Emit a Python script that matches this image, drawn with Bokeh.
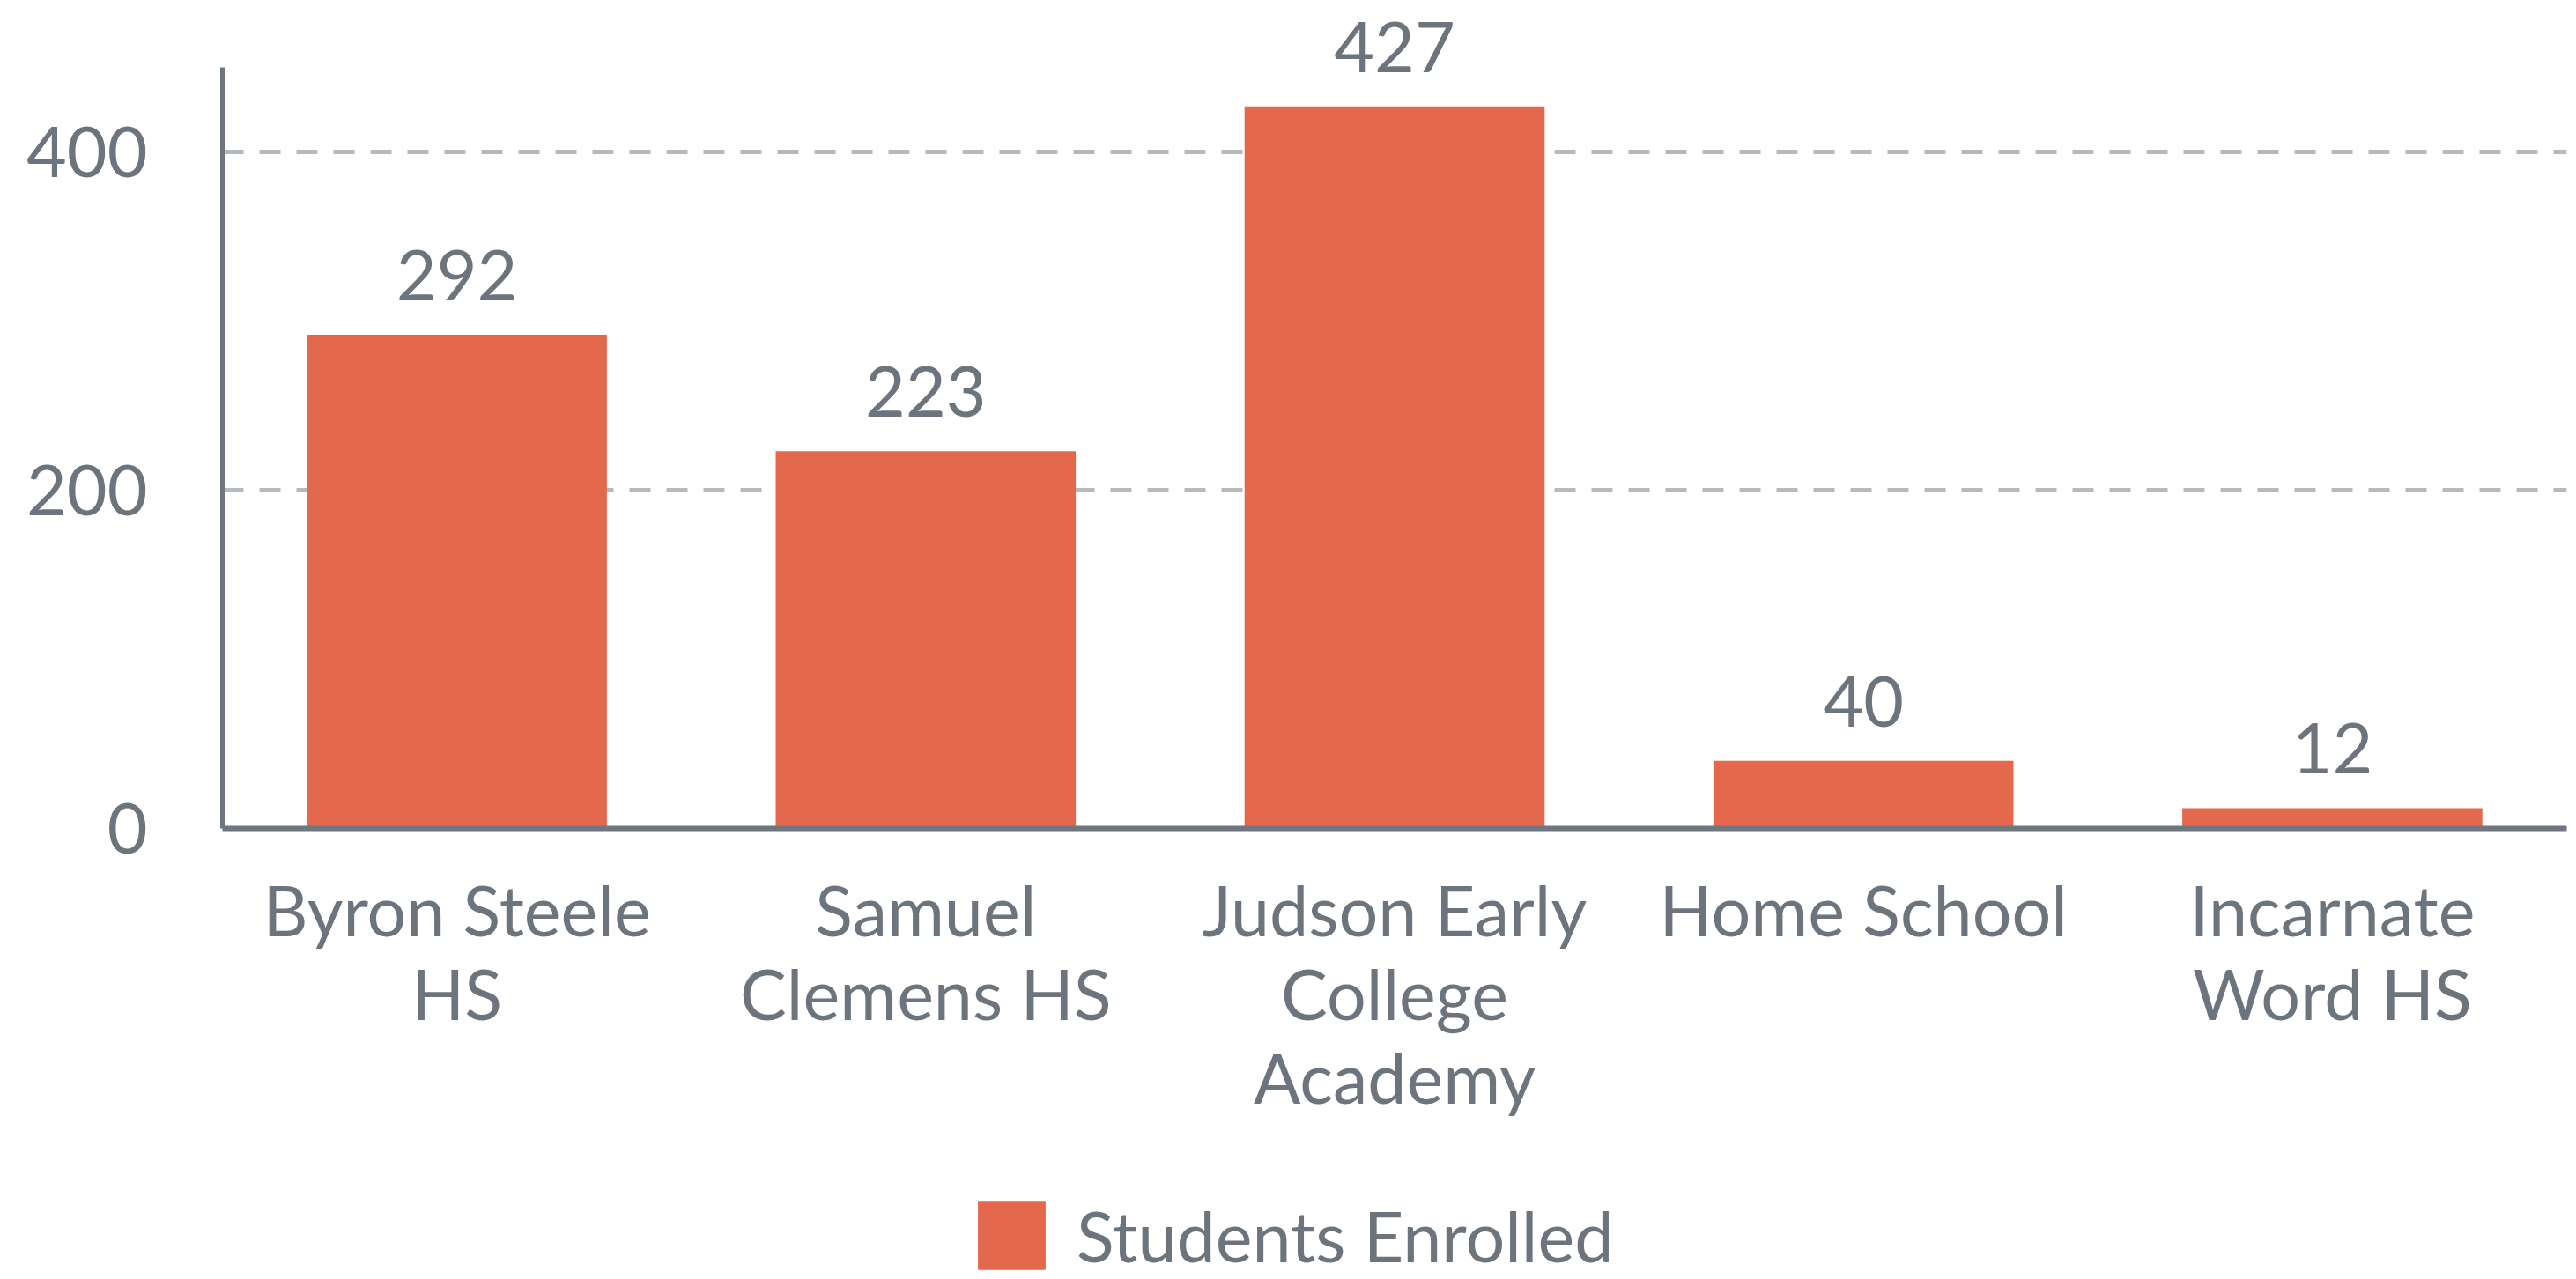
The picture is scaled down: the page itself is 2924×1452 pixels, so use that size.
from bokeh.plotting import figure
from bokeh.layouts import column
from bokeh.models import (Range1d, FactorRange, Legend, LegendItem, FixedTicker,
                          ColumnDataSource, LabelSet)
from bokeh.core.properties import value
from bokeh.embed import file_html
from bokeh.resources import INLINE

schools = ["Byron Steele\nHS", "Samuel\nClemens HS", "Judson Early\nCollege\nAcademy",
           "Home School", "Incarnate\nWord HS"]
enrolled = [292, 223, 427, 40, 12]
y_ticks = [0, 200, 400]
series_name = "Students Enrolled"

TEXT = "#6c757d"
AXIS = "#6e7780"
BAR = "#e4694c"
FONT = "Lato"
FS = "79px"

src = ColumnDataSource(dict(school=schools, enrolled=enrolled,
                            label=[str(v) for v in enrolled]))

p = figure(x_range=FactorRange(*schools, range_padding=0), y_range=Range1d(0, 487),
           frame_width=2661, frame_height=935, output_backend="svg",
           toolbar_location=None, min_border_left=252, min_border_right=11,
           min_border_top=5, min_border_bottom=370)
p.outline_line_color = None

r = p.vbar(x="school", top="enrolled", width=0.64, source=src, fill_color=BAR,
           line_color=None)

labels = LabelSet(x="school", y="enrolled", text="label", source=src,
                  text_align="center", text_baseline="alphabetic", y_offset=39,
                  text_font=value(FONT), text_font_size=value(FS), text_color=TEXT)
p.add_layout(labels)

p.xaxis.major_label_text_font = FONT
p.xaxis.major_label_text_font_size = FS
p.xaxis.major_label_text_color = TEXT
p.xaxis.major_label_text_line_height = 1.0
p.xaxis.major_label_standoff = 38
p.xaxis.axis_line_color = AXIS
p.xaxis.axis_line_width = 6
p.xaxis.major_tick_line_color = None
p.xaxis.minor_tick_line_color = None

p.yaxis.ticker = FixedTicker(ticks=y_ticks)
p.yaxis.bounds = (0, 450)
p.yaxis.major_label_text_font = FONT
p.yaxis.major_label_text_font_size = FS
p.yaxis.major_label_text_color = TEXT
p.yaxis.major_label_standoff = 79
p.yaxis.axis_line_color = AXIS
p.yaxis.axis_line_width = 5
p.yaxis.major_tick_line_color = None
p.yaxis.minor_tick_line_color = None

p.xgrid.grid_line_color = None
p.ygrid.ticker = FixedTicker(ticks=[t for t in y_ticks if t > 0])
p.ygrid.grid_line_color = "#b6b9bd"
p.ygrid.grid_line_width = 5
p.ygrid.grid_line_dash = "24 18"
p.ygrid.bounds = (0, 450)

# legend strip (its frame is aligned with the chart frame by the column layout)
lg = figure(width=2924, height=142, x_range=Range1d(0, 2924), y_range=Range1d(0, 142),
            output_backend="svg", toolbar_location=None, min_border=0,
            x_axis_location=None, y_axis_location=None)
lg.grid.visible = False
lg.outline_line_color = None
lr = lg.vbar(x=[0], top=[0], width=0, fill_color=BAR, line_color=None)
legend = Legend(items=[LegendItem(label=series_name, renderers=[lr])],
                location=(848, 1), orientation="horizontal",
                glyph_width=96, glyph_height=97, label_standoff=26,
                label_text_font=FONT, label_text_font_size=FS,
                label_text_color=TEXT, border_line_color=None,
                background_fill_alpha=0, padding=0, margin=0)
lg.add_layout(legend)

open("out.html", "w").write(file_html(column(p, lg, spacing=0), INLINE))
